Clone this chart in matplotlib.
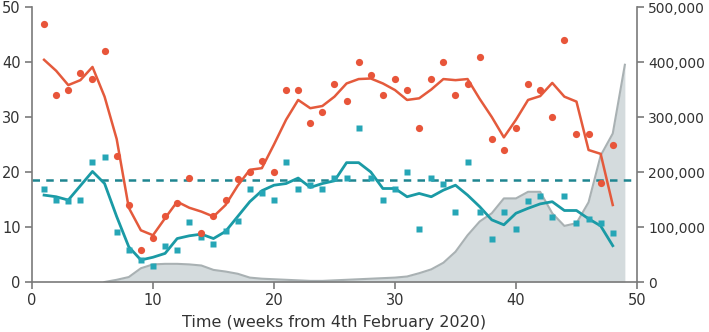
import matplotlib.pyplot as plt
import numpy as np

weeks = list(range(1, 49))

# weekly values (dots) and smoothed trend (lines), left axis
orange_pts = [47, 34, 35, 38, 37, 42, 23, 14, 5.8, 8, 12, 14.4, 19, 9, 12, 15,
              18.7, 20, 22, 20, 35, 35, 29, 31, 36, 33, 40, 37.6, 34, 37, 35, 28,
              37, 40, 34, 36, 41, 26, 24, 28, 36, 35, 30, 44, 27, 27, 18, 25]
orange_line = [40.4, 38.4, 35.8, 36.7, 39.1, 33.7, 26, 13.5, 9.4, 8.5, 11.6, 14.6,
               13.5, 12.8, 11.9, 14, 17.5, 20.4, 20.7, 25, 29.5, 33.1, 31.6, 32,
               33.7, 36.1, 36.9, 37, 36.1, 34.9, 33.1, 33.4, 35, 36.9, 36.7, 36.9,
               33.3, 30, 26.3, 29.5, 33.1, 33.8, 36.2, 33.7, 32.8, 24, 23.3, 14]
teal_pts = [17, 15, 14.8, 14.9, 21.8, 22.8, 9.1, 5.8, 4, 2.9, 6.6, 5.9, 11, 8.1,
            6.9, 9.2, 11.1, 17, 16.1, 14.9, 21.9, 17, 17.7, 17, 19, 18.9, 28, 19,
            14.9, 17, 20, 9.6, 18.9, 17.9, 12.8, 21.9, 12.8, 7.8, 12.8, 9.7, 14.7,
            15.7, 11.9, 15.7, 10.8, 11.5, 10.7, 8.9]
teal_line = [15.8, 15.5, 14.9, 17.5, 20.1, 17.9, 11.9, 6.4, 4, 4.5, 5.2, 7.9, 8.4,
             8.7, 7.9, 9.2, 11.9, 14.6, 16.6, 17.6, 17.9, 18.9, 17.2, 17.9, 18.4,
             21.7, 21.7, 20, 17, 17, 15.5, 16.1, 15.5, 16.7, 17.6, 15.8, 13.7,
             11.3, 10.4, 12.5, 13.4, 14.2, 14.6, 13, 13, 11.5, 10.2, 6.6]
threshold = 18.5

# grey area, right axis
area_weeks = list(range(6, 50))
area_vals = [0, 4000, 9000, 25000, 32000, 33000, 33000, 32000, 30000, 22000, 19000,
             15000, 8000, 6000, 5000, 4000, 3000, 2000, 2000, 3000, 4000, 5000, 6000,
             7000, 8000, 10000, 16000, 23000, 35000, 55000, 85000, 110000, 125000,
             152000, 152000, 164000, 164000, 125000, 102000, 107000, 145000, 230000,
             270000, 395000]

plt.rcParams['font.family'] = 'DejaVu Sans'
txt = '#333333'
spine = '#7a7a7a'

fig = plt.figure(figsize=(7.09, 3.32), dpi=100)
ax = fig.add_axes([0.0451, 0.1506, 0.8533, 0.8283])
ax2 = ax.twinx()
ax.set_zorder(ax2.get_zorder() + 1)
ax.patch.set_visible(False)

ax2.fill_between(area_weeks, area_vals, color='#d4dbdd', lw=0)
ax2.plot(area_weeks, area_vals, color='#a9b1b3', lw=1.5)
ax2.set_ylim(0, 500000)
ax2.set_yticks([0, 100000, 200000, 300000, 400000, 500000])
ax2.set_yticklabels(['0', '100,000', '200,000', '300,000', '400,000', '500,000'])

ax.axhline(threshold, color='#1f8590', lw=1.8, ls=(0, (3, 2.5)))
ax.plot(weeks, teal_line, color='#1a9aa5', lw=2)
ax.plot(weeks, orange_line, color='#e45a3c', lw=1.8)
ax.plot(weeks, teal_pts, 's', color='#26a6b6', ms=4.2, mec='none')
ax.plot(weeks, orange_pts, 'o', color='#e8553a', ms=5.2, mec='none')

ax.set_xlim(0, 50)
ax.set_ylim(0, 50)
ax.set_xticks([0, 10, 20, 30, 40, 50])
ax.set_yticks([0, 10, 20, 30, 40, 50])
ax.set_xlabel('Time (weeks from 4th February 2020)', fontsize=11.5, color=txt, labelpad=5)

for a in (ax, ax2):
    a.spines['top'].set_visible(False)
    for s in ('left', 'right', 'bottom'):
        a.spines[s].set_color(spine)
        a.spines[s].set_linewidth(1.2)
    a.tick_params(colors=spine, labelcolor=txt, labelsize=10.5, length=5, width=1.2, pad=3)
ax2.tick_params(labelsize=10)
ax.spines['right'].set_visible(False)
ax2.spines['left'].set_visible(False)
ax2.spines['bottom'].set_visible(False)

fig.savefig('out.png', dpi=100)
